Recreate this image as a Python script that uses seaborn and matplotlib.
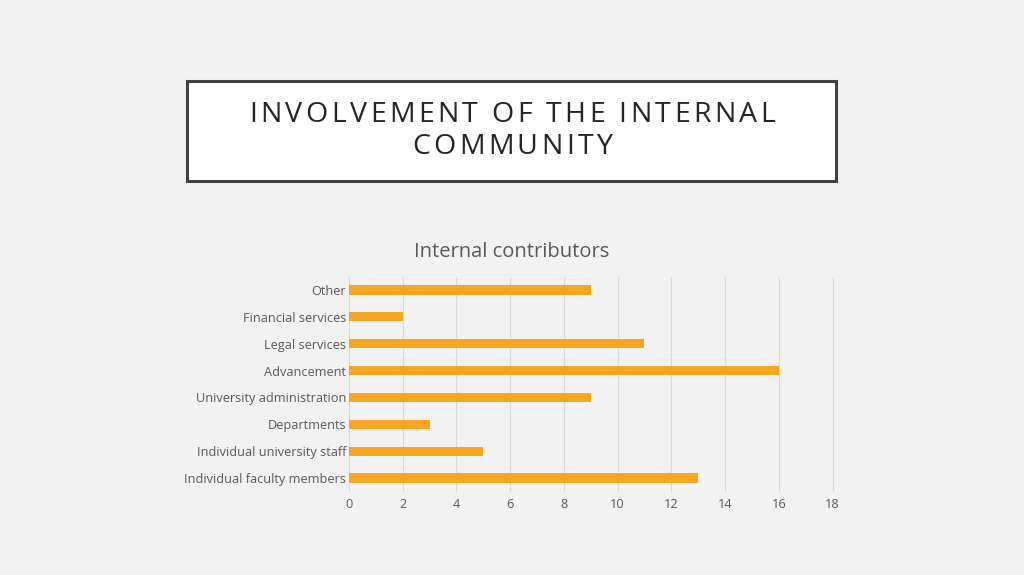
import pandas
import seaborn
import matplotlib.pyplot as plt
from matplotlib.patches import Rectangle

categories = ['Other', 'Financial services', 'Legal services', 'Advancement',
              'University administration', 'Departments',
              'Individual university staff', 'Individual faculty members']
contributors = [9, 2, 11, 16, 9, 3, 5, 13]
x_ticks = [0, 2, 4, 6, 8, 10, 12, 14, 16, 18]
title_lines = ['INVOLVEMENT OF THE INTERNAL', 'COMMUNITY']

seaborn.set_style('white')
plt.rcParams['font.family'] = ['Open Sans', 'DejaVu Sans']

bg = '#f2f2f2'
W, H = 1024, 575
fig = plt.figure(figsize=(10.24, 5.75), dpi=100, facecolor=bg)


def spaced_line(y_px, s, size, track):
    # matplotlib has no letter spacing, so place the letters one by one
    r = fig.canvas.get_renderer()
    widths = []
    for ch in s:
        t = fig.text(0, 0, ch if ch != ' ' else 'n', fontsize=size)
        w = t.get_window_extent(r).width
        if ch == ' ':
            w *= 0.4
        widths.append(w)
        t.remove()
    total = sum(widths) + track * (len(s) - 1)
    x = W / 2 - total / 2
    for ch, w in zip(s, widths):
        if ch != ' ':
            fig.text(x / W, 1 - y_px / H, ch, fontsize=size, color='#262626',
                     ha='left', va='center')
        x += w + track


# title box
fig.patches.append(Rectangle((187 / W, 1 - 181 / H), 649 / W, 100 / H,
                             transform=fig.transFigure, facecolor='white',
                             edgecolor='#404040', linewidth=2.2))
spaced_line(115, title_lines[0], 20.5, 3.4)
spaced_line(147, title_lines[1], 20.5, 3.4)

ax = fig.add_axes([349 / W, 1 - 491.4 / H, 483.5 / W, 214.8 / H])
ax.set_facecolor(bg)

data = pandas.DataFrame({'category': categories, 'count': contributors})
seaborn.barplot(data=data, x='count', y='category', color='#f5a623',
                saturation=1, width=0.34, linewidth=0, ax=ax)

ax.set_xlim(0, 18)
ax.set_xticks(x_ticks)
ax.xaxis.grid(True, color='#d9d9d9', linewidth=0.8)
for gl in ax.get_xgridlines():
    gl.set_clip_on(False)
ax.set_axisbelow(True)
for s in ax.spines.values():
    s.set_visible(False)
ax.tick_params(axis='both', length=0, labelsize=9.2, colors='#595959')
ax.tick_params(axis='x', pad=5)
ax.tick_params(axis='y', pad=2)
ax.set_xlabel('')
ax.set_ylabel('')
fig.text(0.5, 1 - 252 / H, 'Internal contributors', fontsize=14.5,
         color='#595959', ha='center', va='center')

fig.savefig('out.png', dpi=100, facecolor=bg)
